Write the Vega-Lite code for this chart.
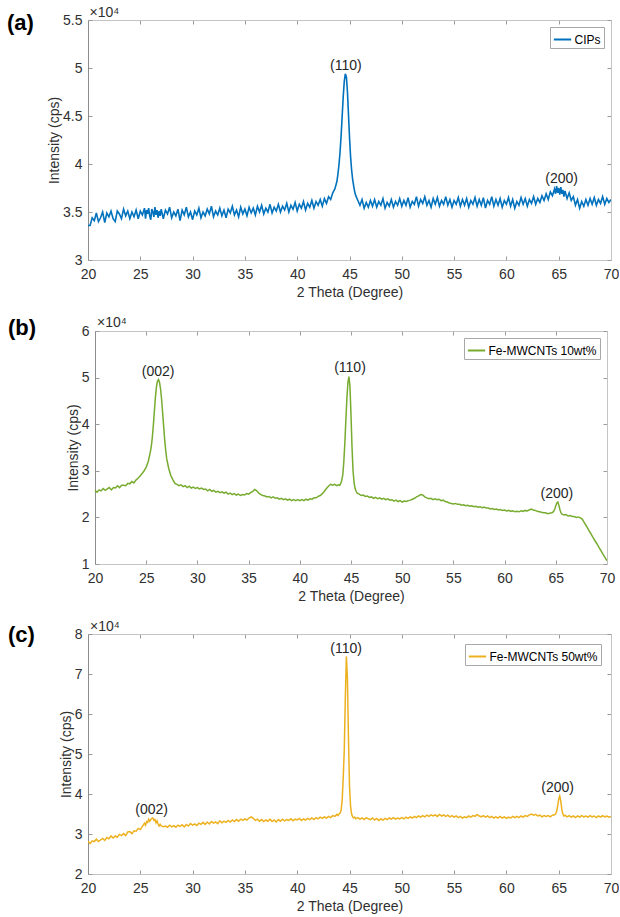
{
  "$schema": "https://vega.github.io/schema/vega-lite/v6.json",
  "background": "white",
  "padding": {"left": 7, "top": 6, "right": 0, "bottom": 3},
  "columns": 1,
  "align": "none",
  "spacing": 17,
  "datasets": {
    "scan": [
      {"t":20,"a":3.36,"b":2.58,"c":2.82},{"t":20.2,"a":3.36,"b":2.54,"c":2.76},{"t":20.4,"a":3.44,"b":2.59,"c":2.83},{"t":20.6,"a":3.41,"b":2.57,"c":2.81},{"t":20.8,"a":3.49,"b":2.62,"c":2.87},
      {"t":21,"a":3.40,"b":2.58,"c":2.81},{"t":21.2,"a":3.44,"b":2.61,"c":2.85},{"t":21.4,"a":3.50,"b":2.64,"c":2.89},{"t":21.6,"a":3.39,"b":2.59,"c":2.84},{"t":21.8,"a":3.49,"b":2.64,"c":2.91},
      {"t":22,"a":3.45,"b":2.63,"c":2.88},{"t":22.2,"a":3.51,"b":2.68,"c":2.95},{"t":22.4,"a":3.43,"b":2.64,"c":2.90},{"t":22.6,"a":3.40,"b":2.69,"c":2.95},{"t":22.8,"a":3.51,"b":2.69,"c":2.92},
      {"t":23,"a":3.48,"b":2.68,"c":2.99},{"t":23.2,"a":3.43,"b":2.73,"c":2.96},{"t":23.4,"a":3.53,"b":2.72,"c":3.01},{"t":23.6,"a":3.46,"b":2.77,"c":2.96},{"t":23.8,"a":3.51,"b":2.74,"c":3.05},
      {"t":24,"a":3.43,"b":2.80,"c":3.06},{"t":24.2,"a":3.50,"b":2.84,"c":3.01},{"t":24.4,"a":3.45,"b":2.89,"c":3.08},{"t":24.6,"a":3.52,"b":2.94,"c":3.07},{"t":24.8,"a":3.43,"b":3.00,"c":3.14},
      {"t":25,"a":3.51,"b":3.08,"c":3.11},{"t":25.2,"a":3.47,"b":3.20,"c":3.19},{"t":25.4,"a":3.54,"b":3.40,"c":3.27},{"t":25.5,"a":3.43,"b":3.53,"c":3.22},{"t":25.6,"a":3.52,"b":3.72,"c":3.31},
      {"t":25.7,"a":3.48,"b":3.98,"c":3.29},{"t":25.8,"a":3.54,"b":4.28,"c":3.37},{"t":25.9,"a":3.46,"b":4.58,"c":3.32},{"t":26,"a":3.42,"b":4.80,"c":3.36},{"t":26.1,"a":3.53,"b":4.92,"c":3.39},
      {"t":26.2,"a":3.50,"b":4.96,"c":3.40},{"t":26.3,"a":3.45,"b":4.90,"c":3.34},{"t":26.4,"a":3.55,"b":4.76,"c":3.36},{"t":26.5,"a":3.47,"b":4.54,"c":3.28},{"t":26.6,"a":3.52,"b":4.26,"c":3.33},
      {"t":26.7,"a":3.44,"b":3.97,"c":3.25},{"t":26.8,"a":3.51,"b":3.68,"c":3.20},{"t":26.9,"a":3.46,"b":3.45,"c":3.24},{"t":27,"a":3.53,"b":3.26,"c":3.20},{"t":27.2,"a":3.43,"b":3.05,"c":3.18},
      {"t":27.4,"a":3.52,"b":2.90,"c":3.20},{"t":27.6,"a":3.48,"b":2.81,"c":3.17},{"t":27.8,"a":3.55,"b":2.73,"c":3.22},{"t":28,"a":3.44,"b":2.71,"c":3.18},{"t":28.2,"a":3.50,"b":2.68,"c":3.21},
      {"t":28.4,"a":3.46,"b":2.70,"c":3.17},{"t":28.6,"a":3.53,"b":2.66,"c":3.22},{"t":28.8,"a":3.41,"b":2.68,"c":3.19},{"t":29,"a":3.52,"b":2.64,"c":3.23},{"t":29.2,"a":3.47,"b":2.67,"c":3.18},
      {"t":29.4,"a":3.55,"b":2.63,"c":3.24},{"t":29.6,"a":3.45,"b":2.65,"c":3.20},{"t":29.8,"a":3.50,"b":2.62,"c":3.26},{"t":30,"a":3.42,"b":2.64,"c":3.22},{"t":30.2,"a":3.51,"b":2.61,"c":3.25},
      {"t":30.4,"a":3.47,"b":2.63,"c":3.21},{"t":30.6,"a":3.54,"b":2.60,"c":3.27},{"t":30.8,"a":3.44,"b":2.61,"c":3.24},{"t":31,"a":3.50,"b":2.57,"c":3.29},{"t":31.2,"a":3.46,"b":2.60,"c":3.24},
      {"t":31.4,"a":3.53,"b":2.56,"c":3.30},{"t":31.6,"a":3.48,"b":2.58,"c":3.25},{"t":31.8,"a":3.56,"b":2.54,"c":3.31},{"t":32,"a":3.45,"b":2.56,"c":3.27},{"t":32.2,"a":3.51,"b":2.53,"c":3.30},
      {"t":32.4,"a":3.47,"b":2.55,"c":3.26},{"t":32.6,"a":3.54,"b":2.52,"c":3.33},{"t":32.8,"a":3.46,"b":2.54,"c":3.28},{"t":33,"a":3.52,"b":2.50,"c":3.32},{"t":33.2,"a":3.44,"b":2.52,"c":3.29},
      {"t":33.4,"a":3.53,"b":2.49,"c":3.34},{"t":33.6,"a":3.49,"b":2.51,"c":3.30},{"t":33.8,"a":3.56,"b":2.48,"c":3.35},{"t":34,"a":3.47,"b":2.50,"c":3.31},{"t":34.2,"a":3.52,"b":2.47,"c":3.36},
      {"t":34.4,"a":3.45,"b":2.49,"c":3.32},{"t":34.6,"a":3.55,"b":2.48,"c":3.37},{"t":34.8,"a":3.48,"b":2.51,"c":3.34},{"t":35,"a":3.53,"b":2.50,"c":3.38},{"t":35.2,"a":3.46,"b":2.53,"c":3.35},
      {"t":35.4,"a":3.55,"b":2.56,"c":3.40},{"t":35.6,"a":3.49,"b":2.60,"c":3.43},{"t":35.8,"a":3.54,"b":2.57,"c":3.39},{"t":36,"a":3.47,"b":2.52,"c":3.34},{"t":36.2,"a":3.56,"b":2.49,"c":3.37},
      {"t":36.4,"a":3.50,"b":2.47,"c":3.32},{"t":36.6,"a":3.57,"b":2.46,"c":3.36},{"t":36.8,"a":3.48,"b":2.44,"c":3.31},{"t":37,"a":3.54,"b":2.45,"c":3.35},{"t":37.2,"a":3.50,"b":2.42,"c":3.32},
      {"t":37.4,"a":3.58,"b":2.44,"c":3.37},{"t":37.6,"a":3.49,"b":2.41,"c":3.31},{"t":37.8,"a":3.55,"b":2.42,"c":3.35},{"t":38,"a":3.51,"b":2.39,"c":3.30},{"t":38.2,"a":3.58,"b":2.41,"c":3.36},
      {"t":38.4,"a":3.50,"b":2.38,"c":3.32},{"t":38.6,"a":3.56,"b":2.40,"c":3.37},{"t":38.8,"a":3.52,"b":2.37,"c":3.33},{"t":39,"a":3.59,"b":2.39,"c":3.36},{"t":39.2,"a":3.50,"b":2.36,"c":3.34},
      {"t":39.4,"a":3.57,"b":2.38,"c":3.38},{"t":39.6,"a":3.53,"b":2.36,"c":3.33},{"t":39.8,"a":3.60,"b":2.38,"c":3.37},{"t":40,"a":3.51,"b":2.36,"c":3.35},{"t":40.2,"a":3.58,"b":2.38,"c":3.39},
      {"t":40.4,"a":3.54,"b":2.36,"c":3.34},{"t":40.6,"a":3.61,"b":2.39,"c":3.38},{"t":40.8,"a":3.52,"b":2.37,"c":3.35},{"t":41,"a":3.59,"b":2.40,"c":3.39},{"t":41.2,"a":3.55,"b":2.39,"c":3.36},
      {"t":41.4,"a":3.62,"b":2.42,"c":3.40},{"t":41.6,"a":3.54,"b":2.42,"c":3.36},{"t":41.8,"a":3.61,"b":2.45,"c":3.41},{"t":42,"a":3.57,"b":2.47,"c":3.38},{"t":42.2,"a":3.63,"b":2.51,"c":3.42},
      {"t":42.4,"a":3.56,"b":2.56,"c":3.39},{"t":42.6,"a":3.64,"b":2.62,"c":3.43},{"t":42.8,"a":3.59,"b":2.67,"c":3.40},{"t":43,"a":3.66,"b":2.71,"c":3.44},{"t":43.2,"a":3.63,"b":2.69,"c":3.41},
      {"t":43.4,"a":3.70,"b":2.71,"c":3.46},{"t":43.6,"a":3.74,"b":2.68,"c":3.44},{"t":43.8,"a":3.82,"b":2.70,"c":3.49},{"t":43.9,"a":3.90,"b":2.69,"c":3.46},{"t":44,"a":4.00,"b":2.73,"c":3.50},
      {"t":44.1,"a":4.13,"b":2.80,"c":3.52},{"t":44.2,"a":4.30,"b":2.92,"c":3.60},{"t":44.3,"a":4.50,"b":3.20,"c":3.85},{"t":44.4,"a":4.70,"b":3.60,"c":4.40},{"t":44.5,"a":4.86,"b":4.10,"c":5.10},
      {"t":44.6,"a":4.94,"b":4.55,"c":6.40},{"t":44.7,"a":4.91,"b":4.90,"c":7.44},{"t":44.8,"a":4.76,"b":5.02,"c":6.90},{"t":44.9,"a":4.52,"b":4.80,"c":5.40},{"t":45,"a":4.28,"b":4.20,"c":4.20},
      {"t":45.1,"a":4.08,"b":3.50,"c":3.70},{"t":45.2,"a":3.94,"b":3.00,"c":3.50},{"t":45.3,"a":3.84,"b":2.75,"c":3.43},{"t":45.4,"a":3.77,"b":2.62,"c":3.40},{"t":45.5,"a":3.71,"b":2.56,"c":3.42},
      {"t":45.6,"a":3.67,"b":2.52,"c":3.38},{"t":45.8,"a":3.62,"b":2.50,"c":3.41},{"t":46,"a":3.57,"b":2.47,"c":3.37},{"t":46.2,"a":3.63,"b":2.48,"c":3.40},{"t":46.4,"a":3.54,"b":2.45,"c":3.36},
      {"t":46.6,"a":3.60,"b":2.46,"c":3.41},{"t":46.8,"a":3.55,"b":2.43,"c":3.38},{"t":47,"a":3.62,"b":2.44,"c":3.36},{"t":47.2,"a":3.56,"b":2.41,"c":3.40},{"t":47.4,"a":3.63,"b":2.43,"c":3.35},
      {"t":47.6,"a":3.55,"b":2.40,"c":3.39},{"t":47.8,"a":3.61,"b":2.42,"c":3.34},{"t":48,"a":3.57,"b":2.39,"c":3.38},{"t":48.2,"a":3.64,"b":2.41,"c":3.35},{"t":48.4,"a":3.54,"b":2.38,"c":3.39},
      {"t":48.6,"a":3.60,"b":2.40,"c":3.36},{"t":48.8,"a":3.56,"b":2.37,"c":3.40},{"t":49,"a":3.63,"b":2.38,"c":3.37},{"t":49.2,"a":3.55,"b":2.35,"c":3.41},{"t":49.4,"a":3.61,"b":2.37,"c":3.37},
      {"t":49.6,"a":3.57,"b":2.34,"c":3.40},{"t":49.8,"a":3.64,"b":2.36,"c":3.38},{"t":50,"a":3.56,"b":2.33,"c":3.41},{"t":50.2,"a":3.62,"b":2.35,"c":3.38},{"t":50.4,"a":3.57,"b":2.34,"c":3.42},
      {"t":50.6,"a":3.65,"b":2.36,"c":3.39},{"t":50.8,"a":3.55,"b":2.37,"c":3.43},{"t":51,"a":3.61,"b":2.39,"c":3.40},{"t":51.2,"a":3.58,"b":2.41,"c":3.44},{"t":51.4,"a":3.66,"b":2.44,"c":3.41},
      {"t":51.6,"a":3.56,"b":2.46,"c":3.45},{"t":51.8,"a":3.63,"b":2.49,"c":3.42},{"t":52,"a":3.59,"b":2.48,"c":3.46},{"t":52.2,"a":3.66,"b":2.44,"c":3.43},{"t":52.4,"a":3.57,"b":2.42,"c":3.47},
      {"t":52.6,"a":3.62,"b":2.40,"c":3.44},{"t":52.8,"a":3.55,"b":2.41,"c":3.48},{"t":53,"a":3.64,"b":2.38,"c":3.45},{"t":53.2,"a":3.58,"b":2.40,"c":3.48},{"t":53.4,"a":3.65,"b":2.38,"c":3.44},
      {"t":53.6,"a":3.56,"b":2.39,"c":3.49},{"t":53.8,"a":3.62,"b":2.36,"c":3.45},{"t":54,"a":3.58,"b":2.37,"c":3.48},{"t":54.2,"a":3.66,"b":2.34,"c":3.44},{"t":54.4,"a":3.57,"b":2.33,"c":3.47},
      {"t":54.6,"a":3.63,"b":2.31,"c":3.43},{"t":54.8,"a":3.55,"b":2.30,"c":3.46},{"t":55,"a":3.62,"b":2.29,"c":3.42},{"t":55.2,"a":3.58,"b":2.30,"c":3.45},{"t":55.4,"a":3.65,"b":2.28,"c":3.41},
      {"t":55.6,"a":3.56,"b":2.28,"c":3.44},{"t":55.8,"a":3.63,"b":2.26,"c":3.40},{"t":56,"a":3.57,"b":2.27,"c":3.43},{"t":56.2,"a":3.64,"b":2.25,"c":3.41},{"t":56.4,"a":3.55,"b":2.26,"c":3.45},
      {"t":56.6,"a":3.62,"b":2.24,"c":3.42},{"t":56.8,"a":3.58,"b":2.25,"c":3.46},{"t":57,"a":3.65,"b":2.23,"c":3.44},{"t":57.2,"a":3.56,"b":2.24,"c":3.49},{"t":57.4,"a":3.63,"b":2.22,"c":3.45},
      {"t":57.6,"a":3.57,"b":2.23,"c":3.43},{"t":57.8,"a":3.65,"b":2.21,"c":3.46},{"t":58,"a":3.54,"b":2.22,"c":3.42},{"t":58.2,"a":3.62,"b":2.20,"c":3.45},{"t":58.4,"a":3.58,"b":2.20,"c":3.41},
      {"t":58.6,"a":3.66,"b":2.18,"c":3.44},{"t":58.8,"a":3.56,"b":2.19,"c":3.40},{"t":59,"a":3.63,"b":2.17,"c":3.43},{"t":59.2,"a":3.57,"b":2.18,"c":3.40},{"t":59.4,"a":3.64,"b":2.16,"c":3.44},
      {"t":59.6,"a":3.55,"b":2.17,"c":3.40},{"t":59.8,"a":3.62,"b":2.15,"c":3.43},{"t":60,"a":3.58,"b":2.16,"c":3.39},{"t":60.2,"a":3.65,"b":2.14,"c":3.42},{"t":60.4,"a":3.56,"b":2.15,"c":3.40},
      {"t":60.6,"a":3.63,"b":2.13,"c":3.44},{"t":60.8,"a":3.54,"b":2.14,"c":3.41},{"t":61,"a":3.61,"b":2.12,"c":3.44},{"t":61.2,"a":3.57,"b":2.13,"c":3.41},{"t":61.4,"a":3.65,"b":2.12,"c":3.45},
      {"t":61.6,"a":3.58,"b":2.14,"c":3.42},{"t":61.8,"a":3.64,"b":2.13,"c":3.46},{"t":62,"a":3.56,"b":2.15,"c":3.44},{"t":62.2,"a":3.63,"b":2.14,"c":3.48},{"t":62.4,"a":3.59,"b":2.16,"c":3.50},
      {"t":62.6,"a":3.66,"b":2.18,"c":3.47},{"t":62.8,"a":3.58,"b":2.16,"c":3.49},{"t":63,"a":3.64,"b":2.15,"c":3.45},{"t":63.2,"a":3.60,"b":2.13,"c":3.47},{"t":63.4,"a":3.67,"b":2.12,"c":3.43},
      {"t":63.6,"a":3.62,"b":2.11,"c":3.46},{"t":63.8,"a":3.69,"b":2.10,"c":3.44},{"t":64,"a":3.63,"b":2.10,"c":3.46},{"t":64.2,"a":3.71,"b":2.08,"c":3.43},{"t":64.4,"a":3.67,"b":2.09,"c":3.47},
      {"t":64.6,"a":3.74,"b":2.10,"c":3.48},{"t":64.7,"a":3.69,"b":2.11,"c":3.50},{"t":64.8,"a":3.77,"b":2.13,"c":3.56},{"t":64.9,"a":3.70,"b":2.18,"c":3.70},{"t":65,"a":3.75,"b":2.25,"c":3.87},
      {"t":65.1,"a":3.68,"b":2.31,"c":3.95},{"t":65.2,"a":3.76,"b":2.33,"c":3.82},{"t":65.3,"a":3.69,"b":2.26,"c":3.61},{"t":65.4,"a":3.73,"b":2.17,"c":3.50},{"t":65.5,"a":3.66,"b":2.10,"c":3.45},
      {"t":65.6,"a":3.72,"b":2.07,"c":3.47},{"t":65.8,"a":3.64,"b":2.05,"c":3.43},{"t":66,"a":3.70,"b":2.06,"c":3.46},{"t":66.2,"a":3.62,"b":2.03,"c":3.42},{"t":66.4,"a":3.66,"b":2.04,"c":3.45},
      {"t":66.6,"a":3.57,"b":2.02,"c":3.41},{"t":66.8,"a":3.63,"b":2.02,"c":3.45},{"t":67,"a":3.54,"b":2.00,"c":3.42},{"t":67.2,"a":3.61,"b":2.01,"c":3.46},{"t":67.4,"a":3.56,"b":1.99,"c":3.43},
      {"t":67.6,"a":3.63,"b":1.96,"c":3.45},{"t":67.8,"a":3.57,"b":1.88,"c":3.42},{"t":68,"a":3.64,"b":1.81,"c":3.46},{"t":68.2,"a":3.58,"b":1.73,"c":3.43},{"t":68.4,"a":3.65,"b":1.66,"c":3.45},
      {"t":68.6,"a":3.57,"b":1.58,"c":3.41},{"t":68.8,"a":3.63,"b":1.51,"c":3.45},{"t":69,"a":3.59,"b":1.44,"c":3.42},{"t":69.2,"a":3.66,"b":1.36,"c":3.46},{"t":69.4,"a":3.58,"b":1.29,"c":3.43},
      {"t":69.6,"a":3.64,"b":1.21,"c":3.45},{"t":69.8,"a":3.60,"b":1.14,"c":3.42},{"t":70,"a":3.63,"b":1.07,"c":3.44}
    ]
  },
  "concat": [
    {
      "width": 523,
      "height": 240,
      "layer": [
        {
          "data": {"name": "scan"},
          "mark": {"type": "line", "strokeWidth": 1.6, "clip": true},
          "encoding": {
            "x": {"field": "t", "type": "quantitative", "scale": {"domain": [20, 70], "nice": false, "zero": false},
                  "axis": {"orient": "bottom", "title": "2 Theta (Degree)", "values": [20,25,30,35,40,45,50,55,60,65,70]}},
            "y": {"field": "a", "type": "quantitative", "scale": {"domain": [3, 5.5], "nice": false, "zero": false},
                  "axis": {"orient": "left", "title": "Intensity (cps)", "values": [3,3.5,4,4.5,5,5.5], "format": "~g", "domainColor": "#8c8c8c"}},
            "color": {"datum": "CIPs", "type": "nominal", "scale": {"range": ["#0072BD"]}, "legend": {"offset": 7}}
          }
        },
        {
          "data": {"values": [
            {"t": 44.66, "y": 5.02, "l": "(110)"},
            {"t": 65.28, "y": 3.84, "l": "(200)"}
          ]},
          "mark": {"type": "text", "fontSize": 14, "baseline": "middle", "color": "#262626"},
          "encoding": {
            "x": {"field": "t", "type": "quantitative", "axis": {"orient": "top", "labels": false, "title": null, "values": [20,25,30,35,40,45,50,55,60,65,70]}},
            "y": {"field": "y", "type": "quantitative", "axis": {"orient": "right", "labels": false, "title": null, "values": [3,3.5,4,4.5,5,5.5]}},
            "text": {"field": "l"}
          }
        },
        {
          "data": {"values": [{}]},
          "mark": {"type": "text", "text": "(a)", "align": "left", "baseline": "middle", "dx": -81, "dy": 2.5, "fontSize": 22, "fontWeight": "bold", "color": "#000000"},
          "encoding": {
            "x": {"datum": 20, "type": "quantitative", "axis": null},
            "y": {"datum": 5.5, "type": "quantitative", "axis": null}
          }
        },
        {
          "data": {"values": [{}]},
          "mark": {"type": "text", "text": "×10⁴", "align": "left", "baseline": "alphabetic", "dx": 1.5, "dy": -3, "fontSize": 14, "color": "#303030"},
          "encoding": {
            "x": {"datum": 20, "type": "quantitative", "axis": null},
            "y": {"datum": 5.5, "type": "quantitative", "axis": null}
          }
        }
      ]
    },
    {
      "width": 519,
      "height": 233,
      "layer": [
        {
          "data": {"name": "scan"},
          "mark": {"type": "line", "strokeWidth": 1.5, "clip": true},
          "encoding": {
            "x": {"field": "t", "type": "quantitative", "scale": {"domain": [20, 70], "range": [7, 519], "nice": false, "zero": false},
                  "axis": {"orient": "bottom", "title": "2 Theta (Degree)", "values": [20,25,30,35,40,45,50,55,60,65,70]}},
            "y": {"field": "b", "type": "quantitative", "scale": {"domain": [1, 6], "nice": false, "zero": false},
                  "axis": {"orient": "left", "offset": -7, "title": "Intensity (cps)", "values": [1,2,3,4,5,6], "format": "~g", "domainColor": "#8c8c8c"}},
            "color": {"datum": "Fe-MWCNTs 10wt%", "type": "nominal", "scale": {"range": ["#77AC30"]}, "legend": {"offset": 7}}
          }
        },
        {
          "data": {"values": [
            {"t": 26.17, "y": 5.13, "l": "(002)"},
            {"t": 44.9, "y": 5.21, "l": "(110)"},
            {"t": 65.1, "y": 2.5, "l": "(200)"}
          ]},
          "mark": {"type": "text", "fontSize": 14, "baseline": "middle", "color": "#262626"},
          "encoding": {
            "x": {"field": "t", "type": "quantitative", "axis": {"orient": "top", "labels": false, "title": null, "values": [20,25,30,35,40,45,50,55,60,65,70]}},
            "y": {"field": "y", "type": "quantitative", "axis": {"orient": "right", "labels": false, "title": null, "values": [1,2,3,4,5,6]}},
            "text": {"field": "l"}
          }
        },
        {
          "data": {"values": [{}]},
          "mark": {"type": "text", "text": "(b)", "align": "left", "baseline": "middle", "dx": -87, "dy": -3.5, "fontSize": 22, "fontWeight": "bold", "color": "#000000"},
          "encoding": {
            "x": {"datum": 20, "type": "quantitative", "axis": null},
            "y": {"datum": 6, "type": "quantitative", "axis": null}
          }
        },
        {
          "data": {"values": [{}]},
          "mark": {"type": "text", "text": "×10⁴", "align": "left", "baseline": "alphabetic", "dx": 2, "dy": -4, "fontSize": 14, "color": "#303030"},
          "encoding": {
            "x": {"datum": 20, "type": "quantitative", "axis": null},
            "y": {"datum": 6, "type": "quantitative", "axis": null}
          }
        }
      ]
    },
    {
      "width": 523,
      "height": 240,
      "layer": [
        {
          "data": {"name": "scan"},
          "mark": {"type": "line", "strokeWidth": 1.5, "clip": true},
          "encoding": {
            "x": {"field": "t", "type": "quantitative", "scale": {"domain": [20, 70], "nice": false, "zero": false},
                  "axis": {"orient": "bottom", "title": "2 Theta (Degree)", "values": [20,25,30,35,40,45,50,55,60,65,70]}},
            "y": {"field": "c", "type": "quantitative", "scale": {"domain": [2, 8], "nice": false, "zero": false},
                  "axis": {"orient": "left", "title": "Intensity (cps)", "values": [2,3,4,5,6,7,8], "format": "~g", "domainColor": "#8c8c8c"}},
            "color": {"datum": "Fe-MWCNTs 50wt%", "type": "nominal", "scale": {"range": ["#EDB120"]}, "legend": {"offset": 10}}
          }
        },
        {
          "data": {"values": [
            {"t": 26.08, "y": 3.6, "l": "(002)"},
            {"t": 44.68, "y": 7.62, "l": "(110)"},
            {"t": 64.9, "y": 4.14, "l": "(200)"}
          ]},
          "mark": {"type": "text", "fontSize": 14, "baseline": "middle", "color": "#262626"},
          "encoding": {
            "x": {"field": "t", "type": "quantitative", "axis": {"orient": "top", "labels": false, "title": null, "values": [20,25,30,35,40,45,50,55,60,65,70]}},
            "y": {"field": "y", "type": "quantitative", "axis": {"orient": "right", "labels": false, "title": null, "values": [2,3,4,5,6,7,8]}},
            "text": {"field": "l"}
          }
        },
        {
          "data": {"values": [{}]},
          "mark": {"type": "text", "text": "(c)", "align": "left", "baseline": "middle", "dx": -80, "dy": 1, "fontSize": 22, "fontWeight": "bold", "color": "#000000"},
          "encoding": {
            "x": {"datum": 20, "type": "quantitative", "axis": null},
            "y": {"datum": 8, "type": "quantitative", "axis": null}
          }
        },
        {
          "data": {"values": [{}]},
          "mark": {"type": "text", "text": "×10⁴", "align": "left", "baseline": "alphabetic", "dx": 2, "dy": -3, "fontSize": 14, "color": "#303030"},
          "encoding": {
            "x": {"datum": 20, "type": "quantitative", "axis": null},
            "y": {"datum": 8, "type": "quantitative", "axis": null}
          }
        }
      ]
    }
  ],
  "resolve": {
    "scale": {"x": "independent", "y": "independent", "color": "independent"},
    "legend": {"color": "independent"}
  },
  "config": {
    "font": "Liberation Sans",
    "view": {"stroke": null},
    "text": {"font": "Liberation Sans"},
    "axis": {
      "grid": false,
      "tickSize": -4,
      "tickColor": "#9a9a9a",
      "domainColor": "#c4c4c4",
      "labelFont": "Liberation Sans",
      "labelFontSize": 14,
      "labelColor": "#303030",
      "labelFlush": false,
      "labelOverlap": false,
      "titleFont": "Liberation Sans",
      "titleFontSize": 14,
      "titleFontWeight": "normal",
      "titleColor": "#303030",
      "titlePadding": 4
    },
    "axisX": {"labelPadding": 11},
    "axisY": {"labelPadding": 10, "titlePadding": 1},
    "legend": {
      "orient": "top-right",
      "title": null,
      "symbolType": "stroke",
      "symbolSize": 300,
      "symbolStrokeWidth": 2,
      "labelFont": "Liberation Sans",
      "labelFontSize": 12,
      "labelColor": "#000000",
      "labelOffset": 2,
      "padding": 2.5,
      "strokeColor": "#a8a8a8",
      "fillColor": "#ffffff",
      "cornerRadius": 0
    }
  }
}
